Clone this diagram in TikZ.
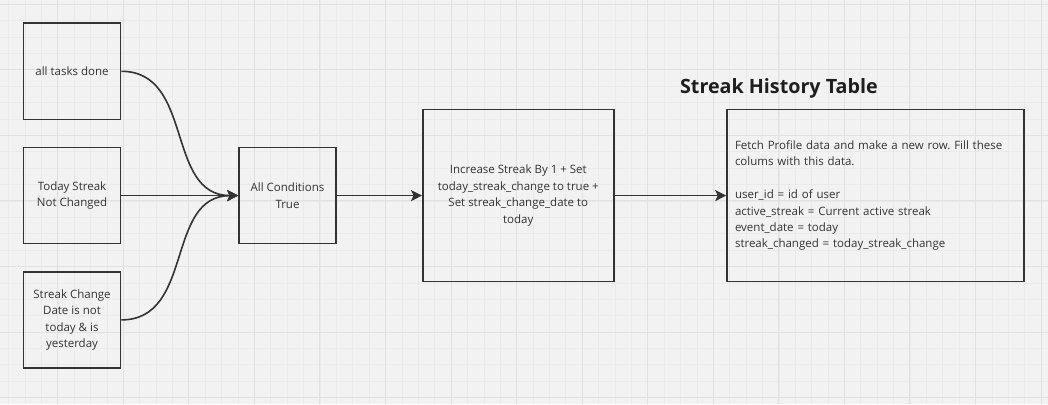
\documentclass[tikz,border=0pt]{standalone}
\usepackage{fontspec}
\setmainfont{Open Sans}
\frenchspacing
\usetikzlibrary{shapes,backgrounds,positioning,arrows.meta}
\definecolor{board}{HTML}{F2F2F2}
\definecolor{minorline}{HTML}{EAEAEA}
\definecolor{majorline}{HTML}{E1E1E1}
\definecolor{ink}{HTML}{333333}
\definecolor{headink}{HTML}{1E1E1E}

\begin{document}
\begin{tikzpicture}[x=1bp, y=1bp, line width=1.6bp, color=ink,
                    >={Stealth[length=11bp,width=11bp,inset=2.5bp]},
                    main/.style = {draw, rectangle, minimum width=97bp, minimum height=96bp, align=center,
                                   font=\fontsize{11.5bp}{16.4bp}\selectfont},
                    thin grid/.style = {minorline, line width=0.8bp},
                    thick grid/.style = {majorline, line width=1bp}]
                  \useasboundingbox (0,0) rectangle (1048,404);
                  \fill[board] (0,0) rectangle (1048,404);
                  \foreach \i in {0,...,64} \draw[thin grid] ({-7.8+16.39*\i},0) -- ({-7.8+16.39*\i},404);
                  \foreach \j in {0,...,25} \draw[thin grid] (0,{399.7-16.39*\j}) -- (1048,{399.7-16.39*\j});
                  \foreach \i in {0,...,16} \draw[thick grid] ({-7.8+65.55*\i},0) -- ({-7.8+65.55*\i},404);
                  \foreach \j in {0,...,6} \draw[thick grid] (0,{399.7-65.55*\j}) -- (1048,{399.7-65.55*\j});

                  \node[main] (1) at (72,332.7) {all tasks done};
                  \node[main] (2) [below of=1, node distance=124.3bp] {Today Streak\\Not Changed};
                  \node[main] (3) [below of=2, node distance=124.3bp] {Streak Change\\Date is not\\today \& is\\yesterday};
                  \node[main] (4) [right of=2, node distance=215.5bp] {All Conditions\\True};
                  \node[main, minimum width=191bp, minimum height=172bp] (5) [right of=4, node distance=230.8bp]
                       {Increase Streak By 1 + Set\\today\_streak\_change to true +\\Set streak\_change\_date to\\today};
                  \node[main, minimum width=297bp, minimum height=172bp, text width=281bp, align=left] (6) [right of=5, node distance=357.2bp]
                       {Fetch Profile data and make a new row. Fill these\\colums with this data.\\[16.4bp]
                        user\_id = id of user\\active\_streak = Current active streak\\event\_date = today\\streak\_changed = today\_streak\_change};
                  \node[anchor=base west, inner sep=0pt, text=headink, font=\bfseries\fontsize{19.7bp}{24bp}\selectfont] (7) at (679.3,311) {Streak History Table};
                  \draw[->] (1) to [out=0,in=180,looseness=1.1] (4);
                  \draw[->] (2) -- (4);
                  \draw[->] (3) to [out=0,in=180,looseness=1.1] (4);
                  \draw[->] (4) -- (5);
                  \draw[->] (5) -- (6);
              \end{tikzpicture}
\end{document}
